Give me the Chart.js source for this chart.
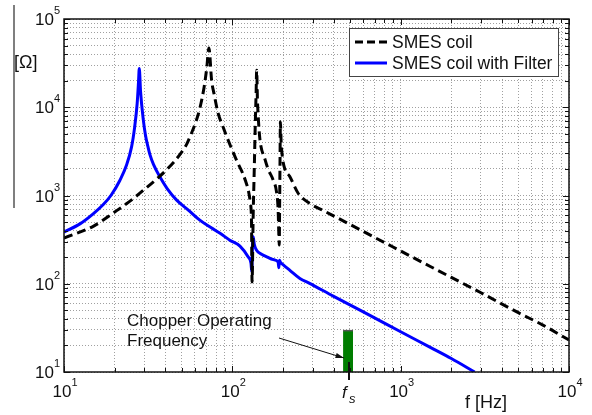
<!DOCTYPE html>
<html>
<head>
<meta charset="utf-8">
<script src="https://cdn.jsdelivr.net/npm/chart.js@4.4.0/dist/chart.umd.min.js"></script>
<style>
  html, body { margin: 0; padding: 0; background: #fff; }
  #wrap { width: 592px; height: 415px; position: relative; }
</style>
</head>
<body>
<div id="wrap"><canvas id="impedanceChart"></canvas></div>
<script>
// impedance readings, f in Hz, |Z| in Ohm
const coilFreq = [10, 15, 20, 25, 30, 37, 45, 50, 53.5, 57, 60, 64, 68, 70.5, 72.6, 75.3, 78, 82.4, 88, 94.4,
  101, 108, 115, 120, 125, 128, 130, 131, 133, 135, 137, 138.5, 139.5, 141, 143, 146, 156, 163, 175, 183,
  187, 189, 190, 191, 192, 193, 195, 198, 205, 219, 246, 288, 350, 500, 700, 1000, 1500, 2000, 3000, 5000, 7000, 10000];
const coilZ = [330, 450, 650, 880, 1170, 1650, 2400, 3100, 3800, 5000, 6400, 9600, 17000, 28000, 47000, 20300, 14000, 8500, 6000, 4240,
  3100, 2310, 1800, 1450, 1100, 820, 500, 105, 600, 2000, 7000, 15000, 26300, 12000, 7000, 4240, 2600, 2000, 1490, 1100,
  700, 350, 274, 800, 2500, 6840, 4000, 2800, 2000, 1650, 1060, 813, 670, 470, 335, 235, 157, 118, 79, 47, 34, 23];

const filterFreq = [10, 12.5, 14.9, 17, 19, 21.5, 23.5, 25.2, 26.3, 27.2, 27.7, 28, 28.5, 29.6, 30.5, 31.5, 32.4, 34, 37.1, 41, 46.7,
  55, 64.1, 75, 85, 96.6, 111, 124, 129, 130.5, 131.5, 133, 135, 139, 150, 160, 175, 187, 189, 190.5, 193,
  200, 219, 252, 288, 400, 600, 1000, 1500, 2000, 2750];
const filterZ = [385, 480, 620, 780, 1000, 1490, 2200, 3560, 6000, 11000, 19000, 27500, 15000, 7150, 4800, 3600, 2900, 2250, 1630, 1200, 887,
  680, 526, 430, 370, 312, 267, 202, 172, 137, 250, 340, 280, 241, 215, 202, 188, 177, 152, 185, 175,
  165, 143, 115, 101, 72, 48, 28.6, 19, 14.2, 10];

// chopper operating band
const chopperBand = [455, 521];
const chopperTop = 29.4;
const chopperFreq = 490;

const seriesLabels = ['SMES coil', 'SMES coil with Filter'];
const noteLines = ['Chopper Operating', 'Frequency'];
const xTickExponents = [1, 2, 3, 4];
const yTickExponents = [1, 2, 3, 4, 5];

const FONT = '"Liberation Sans", Arial, sans-serif';

function gridValues(exps) {
  const out = [];
  for (let i = 0; i < exps.length - 1; i++) {
    for (let m = 1; m <= 9; m++) out.push(m * Math.pow(10, exps[i]));
  }
  out.push(Math.pow(10, exps[exps.length - 1]));
  return out;
}

function isDecade(v) {
  const l = Math.log10(v);
  return Math.abs(l - Math.round(l)) < 1e-9;
}

function pairs(xs, ys) {
  return xs.map((f, i) => ({ x: f, y: ys[i] }));
}

// draws "10" with a raised exponent
function powerLabel(ctx, exp, px, py, align) {
  ctx.font = '17px ' + FONT;
  const w1 = ctx.measureText('10').width;
  ctx.font = '11px ' + FONT;
  const w2 = ctx.measureText(String(exp)).width;
  let left;
  if (align === 'center') left = px - (w1 + w2) / 2 + 1;
  else left = px - w1 - w2;
  ctx.textAlign = 'left';
  ctx.textBaseline = 'alphabetic';
  ctx.font = '17px ' + FONT;
  ctx.fillText('10', left, py);
  ctx.font = '11px ' + FONT;
  ctx.fillText(String(exp), left + w1, py - 11);
}

const decorations = {
  id: 'decorations',
  afterDatasetsDraw(chart) {
    const { ctx, chartArea: a, scales: { x, y } } = chart;
    ctx.save();
    ctx.fillStyle = '#111';
    ctx.strokeStyle = '#111';

    // inner ticks on all four sides
    ctx.lineWidth = 1;
    ctx.beginPath();
    x.ticks.forEach(t => {
      const px = Math.round(x.getPixelForValue(t.value)) + 0.5;
      const len = isDecade(t.value) ? 6 : 4;
      ctx.moveTo(px, a.bottom); ctx.lineTo(px, a.bottom - len);
      ctx.moveTo(px, a.top); ctx.lineTo(px, a.top + len);
    });
    y.ticks.forEach(t => {
      const py = Math.round(y.getPixelForValue(t.value)) + 0.5;
      const len = isDecade(t.value) ? 6 : 4;
      ctx.moveTo(a.left, py); ctx.lineTo(a.left + len, py);
      ctx.moveTo(a.right, py); ctx.lineTo(a.right - len, py);
    });
    ctx.stroke();

    // frame
    ctx.lineWidth = 1.5;
    ctx.strokeRect(a.left, a.top, a.right - a.left, a.bottom - a.top);

    // tick labels
    xTickExponents.forEach(e => powerLabel(ctx, e, x.getPixelForValue(Math.pow(10, e)), a.bottom + 25, 'center'));
    yTickExponents.forEach(e => powerLabel(ctx, e, a.left - 4, y.getPixelForValue(Math.pow(10, e)) + 6, 'right'));

    // axis captions
    ctx.font = '18px ' + FONT;
    ctx.textAlign = 'center';
    ctx.fillText('f [Hz]', 486, 408);
    ctx.textAlign = 'left';
    ctx.fillText('[\u03A9]', 14, 68);
    ctx.strokeStyle = '#555';
    ctx.lineWidth = 1.5;
    ctx.beginPath();
    ctx.moveTo(14, 5); ctx.lineTo(14, 208);
    ctx.stroke();

    // legend
    const lx = 349.5, ly = 28.5, lw = 209, lh = 48;
    ctx.fillStyle = '#fff';
    ctx.fillRect(lx, ly, lw, lh);
    ctx.strokeStyle = '#444';
    ctx.lineWidth = 1;
    ctx.strokeRect(lx, ly, lw, lh);
    chart.data.datasets.slice(0, 2).forEach((ds, i) => {
      const rowY = 42 + i * 21;
      ctx.strokeStyle = ds.borderColor;
      ctx.lineWidth = ds.borderWidth;
      ctx.setLineDash(ds.borderDash ? [8, 4] : []);
      ctx.beginPath();
      ctx.moveTo(355, rowY); ctx.lineTo(387, rowY);
      ctx.stroke();
      ctx.setLineDash([]);
      ctx.fillStyle = '#111';
      ctx.font = '17.5px ' + FONT;
      ctx.textBaseline = 'middle';
      ctx.fillText(ds.label, 392, rowY + 1);
    });
    ctx.textBaseline = 'alphabetic';

    // chopper note + arrow
    ctx.fillStyle = '#111';
    ctx.font = '17px ' + FONT;
    ctx.fillText(noteLines[0], 127, 326);
    ctx.fillText(noteLines[1], 127, 346);
    const tipX = x.getPixelForValue(chopperBand[0]) + 1, tipY = 358;
    const sx = 279, sy = 338;
    ctx.strokeStyle = '#111';
    ctx.lineWidth = 1;
    ctx.beginPath();
    ctx.moveTo(sx, sy); ctx.lineTo(tipX, tipY);
    ctx.stroke();
    const ang = Math.atan2(tipY - sy, tipX - sx);
    ctx.beginPath();
    ctx.moveTo(tipX, tipY);
    ctx.lineTo(tipX - 9 * Math.cos(ang - 0.3), tipY - 9 * Math.sin(ang - 0.3));
    ctx.lineTo(tipX - 9 * Math.cos(ang + 0.3), tipY - 9 * Math.sin(ang + 0.3));
    ctx.closePath();
    ctx.fill();

    // f_s marker
    const fsX = Math.round(x.getPixelForValue(chopperFreq));
    ctx.lineWidth = 2;
    ctx.beginPath();
    ctx.moveTo(fsX, a.bottom - 10); ctx.lineTo(fsX, a.bottom + 8);
    ctx.stroke();
    ctx.font = 'italic 17px ' + FONT;
    ctx.fillText('f', fsX - 7, 398);
    ctx.font = 'italic 13px ' + FONT;
    ctx.fillText('s', fsX, 403);

    ctx.restore();
  }
};

const ctx = document.getElementById('impedanceChart').getContext('2d');
new Chart(ctx, {
  type: 'line',
  data: {
    datasets: [
      {
        label: seriesLabels[0],
        data: pairs(coilFreq, coilZ),
        borderColor: '#000',
        borderWidth: 3,
        borderDash: [9, 5],
        pointRadius: 0,
        cubicInterpolationMode: 'monotone',
        fill: false,
      },
      {
        label: seriesLabels[1],
        data: pairs(filterFreq, filterZ),
        borderColor: 'rgb(0, 0, 255)',
        borderWidth: 3,
        pointRadius: 0,
        cubicInterpolationMode: 'monotone',
        fill: false,
      },
      {
        label: 'chopper',
        data: pairs(chopperBand, [chopperTop, chopperTop]),
        borderColor: '#555',
        borderWidth: 1.5,
        backgroundColor: 'rgb(0, 125, 0)',
        pointRadius: 0,
        tension: 0,
        fill: 'start',
      },
    ],
  },
  options: {
    responsive: true,
    maintainAspectRatio: false,
    animation: false,
    layout: { padding: { left: 64, right: 23, top: 19, bottom: 43 } },
    plugins: {
      legend: { display: false },
      tooltip: { enabled: false },
    },
    scales: {
      x: {
        type: 'logarithmic',
        min: 10,
        max: 10000,
        afterBuildTicks: (scale) => { scale.ticks = gridValues(xTickExponents).map(v => ({ value: v })); },
        ticks: { display: false },
        grid: { color: '#a0a0a0', lineWidth: 1, drawTicks: false },
        border: { display: false, dash: [1, 2] },
      },
      y: {
        type: 'logarithmic',
        min: 10,
        max: 100000,
        afterBuildTicks: (scale) => { scale.ticks = gridValues(yTickExponents).map(v => ({ value: v })); },
        ticks: { display: false },
        grid: { color: '#a0a0a0', lineWidth: 1, drawTicks: false },
        border: { display: false, dash: [1, 2] },
      },
    },
  },
  plugins: [decorations],
});
</script>
</body>
</html>
